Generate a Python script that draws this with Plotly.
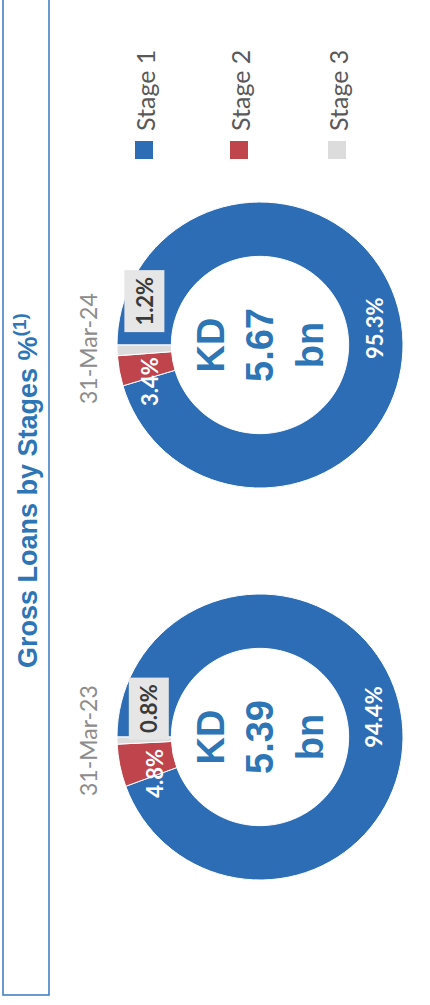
import math
import plotly.graph_objects as go

W, H = 430, 1005

# ---------------- data ----------------
stages = ["Stage 1", "Stage 2", "Stage 3"]
dates = ["31-Mar-24", "31-Mar-23"]
share_mar24 = [95.3, 3.4, 1.2]
share_mar23 = [94.4, 4.8, 0.8]
totals_bn = [5.67, 5.39]
title_text = "Gross Loans by Stages %<sup>(1)</sup>"

# ---------------- style ----------------
colors = ["#2d6db5", "#c0444c", "#dcdcdc"]
BLUE_TEXT = "#2e75b6"
HOLE = 0.62
START = 270  # first slice starts at 9 o'clock (chart is rotated)

def px(x):
    return x / W

def py(y):
    return 1 - y / H

# donut placement (pixels): centre and radius
donuts = [dict(cx=260, cy=345, r=143), dict(cx=260, cy=737, r=143)]
series = [share_mar24, share_mar23]
# small pixel nudges for the data labels (like Excel's label placement)
nudges = [
    [(0, 0), (3, 16), (0, -48)],
    [(0, 0), (8, 13), (5, -31)],
]

fig = go.Figure()
annotations = []
shapes = []

for k, (d, vals) in enumerate(zip(donuts, series)):
    cx, cy, r = d["cx"], d["cy"], d["r"]
    fig.add_trace(go.Pie(
        labels=stages, values=vals, sort=False, direction="clockwise",
        rotation=START, hole=HOLE, textinfo="none", hoverinfo="label+percent",
        marker=dict(colors=colors, line=dict(color="white", width=1)),
        domain=dict(x=[px(cx - r), px(cx + r)], y=[py(cy + r), py(cy - r)]),
        showlegend=False,
    ))
    total = sum(vals)
    cum = 0.0
    rl = r * (1 + HOLE) / 2
    for i, v in enumerate(vals):
        theta = math.radians(START + 360 * (cum + v / 2) / total)
        cum += v
        lx = cx + rl * math.sin(theta) + nudges[k][i][0]
        ly = cy - rl * math.cos(theta) + nudges[k][i][1]
        if i < 2:
            ann = dict(font=dict(family="Lato", size=22, color="white"))
        else:
            ann = dict(font=dict(family="Lato", size=22, color="#3a3a3a"),
                       bgcolor="#e6e6e6", borderpad=6)
        annotations.append(dict(
            x=px(lx), y=py(ly), xref="paper", yref="paper",
            text="<b>%.1f%%</b>" % v, showarrow=False, textangle=-90,
            xanchor="center", yanchor="middle", **ann))
    # centre total
    annotations.append(dict(
        x=px(cx), y=py(cy), xref="paper", yref="paper",
        text="<b>KD<br>%.2f<br>bn</b>" % totals_bn[k], showarrow=False,
        textangle=-90, xanchor="center", yanchor="middle",
        font=dict(family="Liberation Sans", size=38, color=BLUE_TEXT)))
    # date label
    annotations.append(dict(
        x=px(88), y=py(cy + 4), xref="paper", yref="paper",
        text=dates[k], showarrow=False, textangle=-90,
        xanchor="center", yanchor="middle",
        font=dict(family="Lato", size=23, color="#8c8c8c")))

# legend (drawn rotated)
legend_x = [144, 239, 337]
for name, c, lx in zip(stages, colors, legend_x):
    shapes.append(dict(type="rect", xref="paper", yref="paper",
                       x0=px(lx - 9), x1=px(lx + 9), y0=py(159), y1=py(141),
                       fillcolor=c, line=dict(width=0)))
    annotations.append(dict(
        x=px(lx + 1), y=py(91), xref="paper", yref="paper",
        text=name, showarrow=False, textangle=-90,
        xanchor="center", yanchor="middle",
        font=dict(family="Lato", size=25, color="#595959")))

# title box + title
shapes.append(dict(type="rect", xref="paper", yref="paper",
                   x0=px(3), x1=px(49), y0=py(995), y1=py(-5),
                   line=dict(color="#3a78c0", width=1.5)))
annotations.append(dict(
    x=px(26), y=py(491), xref="paper", yref="paper",
    text="<b>" + title_text + "</b>", showarrow=False, textangle=-90,
    xanchor="center", yanchor="middle",
    font=dict(family="Liberation Sans", size=27, color=BLUE_TEXT)))

fig.update_layout(
    width=W, height=H, margin=dict(l=0, r=0, t=0, b=0),
    paper_bgcolor="white", plot_bgcolor="white",
    showlegend=False, annotations=annotations, shapes=shapes,
)

fig.write_html(
    "out.html",
    config={"displayModeBar": False},
    post_script="document.body.style.margin='0';document.body.style.overflow='hidden';",
)
